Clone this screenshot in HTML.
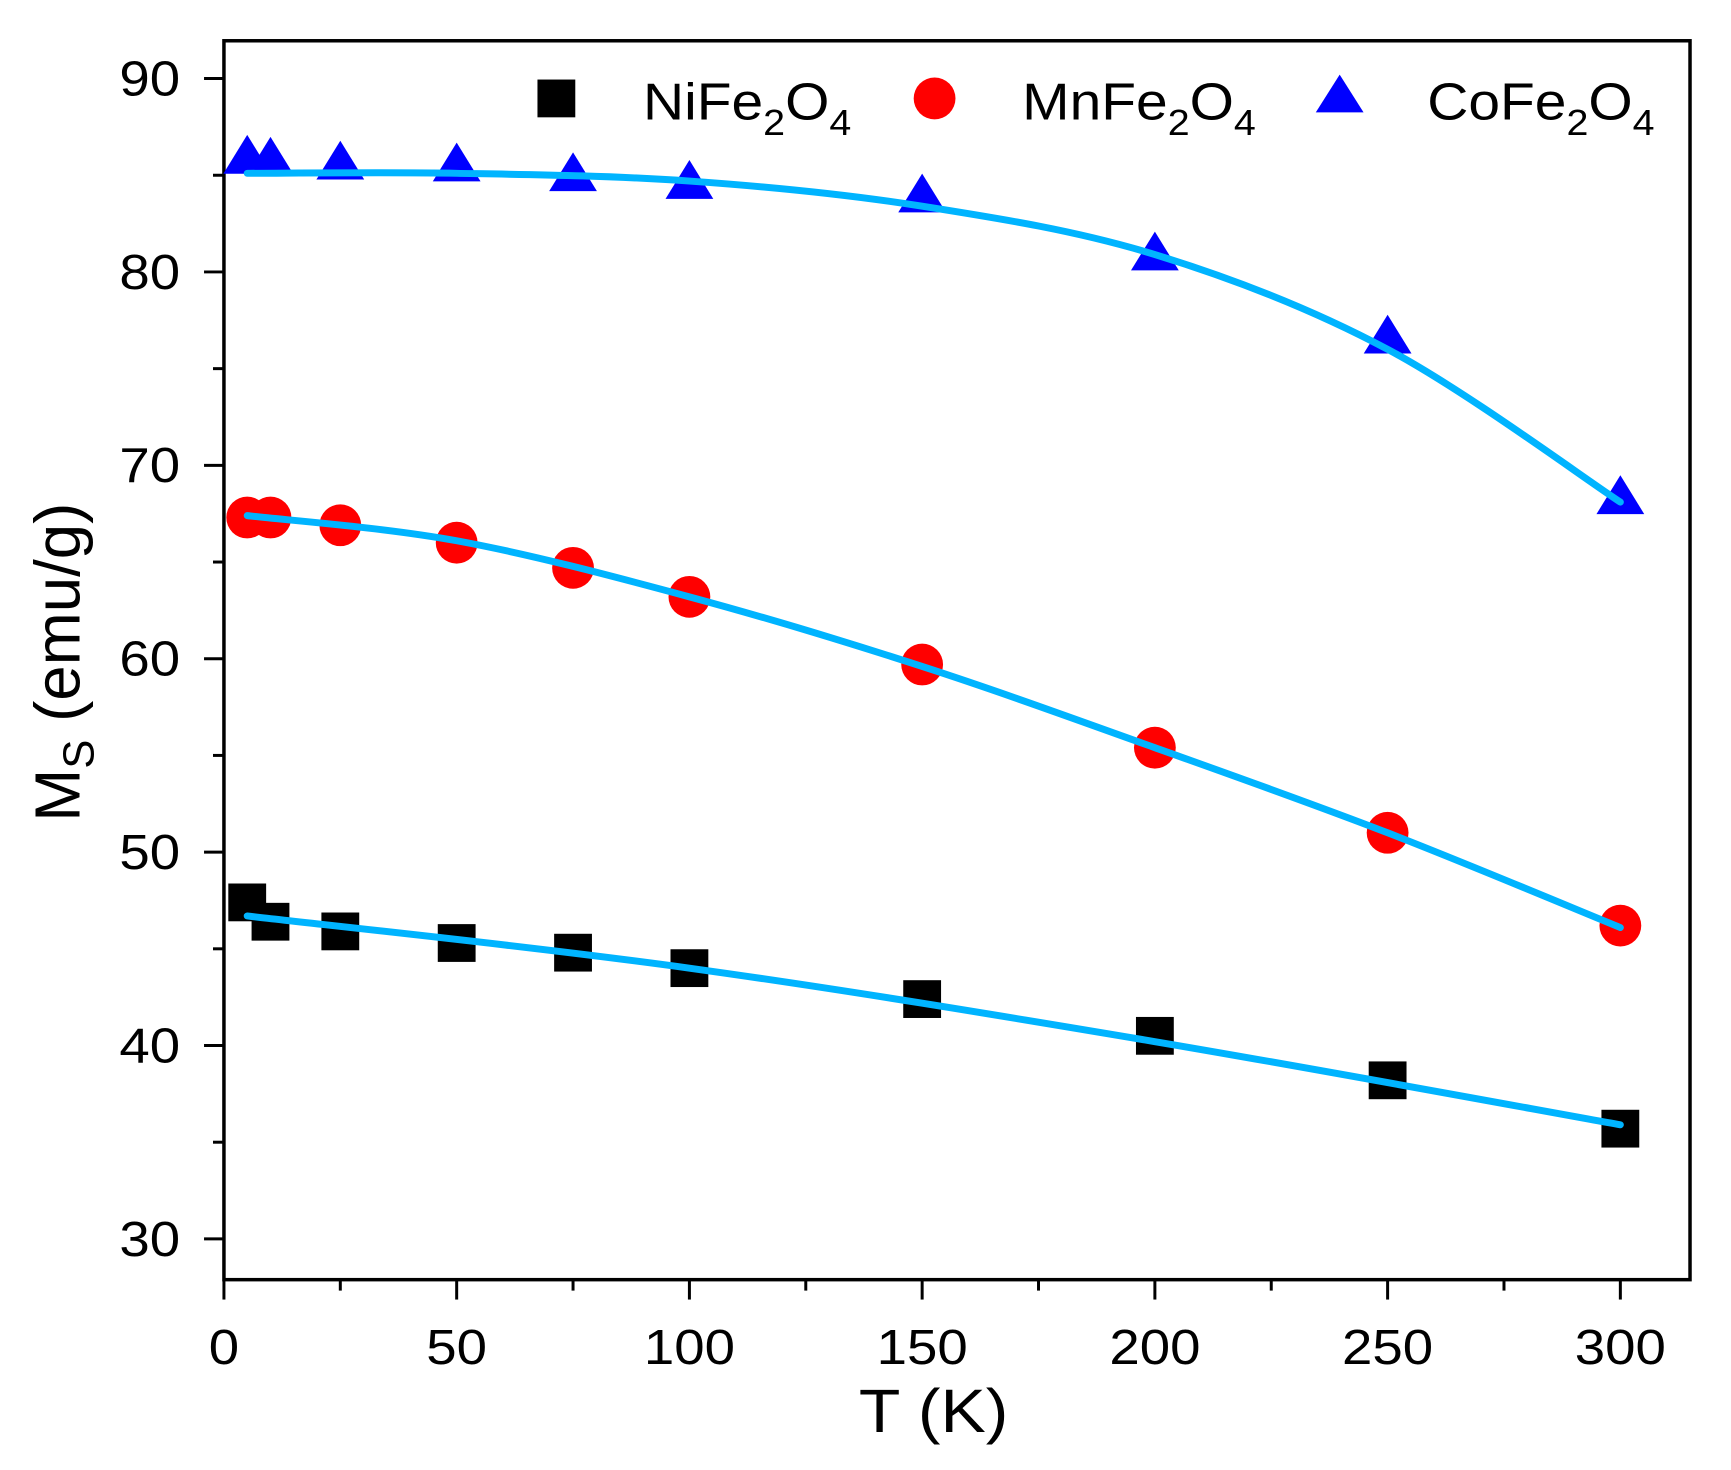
<!DOCTYPE html>
<html><head><meta charset="utf-8"><style>
html,body{margin:0;padding:0;background:#fff;}
svg{display:block;font-family:"Liberation Sans",Arial,sans-serif;}
</style></head><body>
<svg id="s" width="1731" height="1470" viewBox="0 0 1731 1470" xmlns="http://www.w3.org/2000/svg">
<rect x="0" y="0" width="1731" height="1470" fill="#fff"/>
<g transform="scale(0.9953,0.9943)">
<g id="g"></g>
<text transform="translate(938,1440) scale(1.1,1)" font-size="62" text-anchor="middle">T (K)</text>
<text transform="translate(80,666) rotate(-90)" font-size="64" text-anchor="middle">M<tspan font-size="44" dy="14">S</tspan><tspan dy="-14"> (emu/g)</tspan></text>
<rect x="540" y="80" width="38" height="38" fill="#000"/>
<text transform="translate(646,120) scale(1.1,1)" font-size="52">NiFe<tspan font-size="36" dy="16">2</tspan><tspan dy="-16">O</tspan><tspan font-size="36" dy="16">4</tspan></text>
<circle cx="939" cy="99" r="21" fill="#ff0000"/>
<text transform="translate(1027,120) scale(1.1,1)" font-size="52">MnFe<tspan font-size="36" dy="16">2</tspan><tspan dy="-16">O</tspan><tspan font-size="36" dy="16">4</tspan></text>
<polygon points="1346,75 1370,113 1322,113" fill="#0000ff"/>
<text transform="translate(1434,120) scale(1.1,1)" font-size="52">CoFe<tspan font-size="36" dy="16">2</tspan><tspan dy="-16">O</tspan><tspan font-size="36" dy="16">4</tspan></text>
</g>
</svg>
<script>
var NS="http://www.w3.org/2000/svg",g=document.getElementById("g");
function X(t){return 225+t*(1628-225)/300;}
function Y(v){return 79+(90-v)*(1246-79)/60;}
function el(n,a){var e=document.createElementNS(NS,n);for(var k in a)e.setAttribute(k,a[k]);g.appendChild(e);return e;}
el("rect",{x:225,y:41,width:1473,height:1246,fill:"none",stroke:"#000","stroke-width":3.5});
for(var t=0;t<=300;t+=25){var maj=t%50==0;el("line",{x1:X(t),x2:X(t),y1:1287,y2:1287+(maj?20:11),stroke:"#000","stroke-width":3});
 if(maj){var e=el("text",{transform:"translate("+X(t)+",1372) scale(1.12,1)","font-size":49,"text-anchor":"middle"});e.textContent=t;}}
for(var v=30;v<=90;v+=5){var maj=v%10==0;el("line",{x1:225,x2:225-(maj?20:11),y1:Y(v),y2:Y(v),stroke:"#000","stroke-width":3});
 if(maj){var e=el("text",{transform:"translate(181,"+(Y(v)+17)+") scale(1.12,1)","font-size":49,"text-anchor":"end"});e.textContent=v;}}
var T=[5,10,25,50,75,100,150,200,250,300];
var ni=[47.4,46.4,45.9,45.3,44.8,44.0,42.4,40.5,38.2,35.7];
var mn=[67.3,67.3,66.9,66.0,64.7,63.2,59.7,55.4,51.0,46.2];
var co=[85.8,85.7,85.5,85.4,84.9,84.5,83.8,80.8,76.5,68.2];
for(var i=0;i<T.length;i++){
 el("rect",{x:X(T[i])-19,y:Y(ni[i])-19,width:38,height:38,fill:"#000"});
 el("circle",{cx:X(T[i]),cy:Y(mn[i]),r:21,fill:"#ff0000"});
 var x=X(T[i]),y=Y(co[i]);
 el("polygon",{points:x+","+(y-25)+" "+(x+24)+","+(y+14)+" "+(x-24)+","+(y+14),fill:"#0000ff"});
}
function curve(p){var pts=p.map(function(a){return [X(a[0]),Y(a[1])];});
 var d="M"+pts[0][0]+","+pts[0][1];
 for(var i=0;i<pts.length-1;i++){var p0=pts[i>0?i-1:i],p1=pts[i],p2=pts[i+1],p3=pts[i+2<pts.length?i+2:i+1];
  d+=" C"+(p1[0]+(p2[0]-p0[0])/6)+","+(p1[1]+(p2[1]-p0[1])/6)+" "+(p2[0]-(p3[0]-p1[0])/6)+","+(p2[1]-(p3[1]-p1[1])/6)+" "+p2[0]+","+p2[1];}
 el("path",{d:d,fill:"none",stroke:"#00b4ff","stroke-width":7,"stroke-linecap":"round"});}
curve([[5,46.7],[100,44.0],[200,40.2],[300,35.9]]);
curve([[5,67.4],[50,66.1],[100,63.2],[150,59.6],[200,55.4],[250,51.0],[300,46.1]]);
curve([[5,85.1],[50,85.1],[100,84.7],[150,83.4],[200,80.9],[250,76.0],[300,68.1]]);
</script>
</body></html>
